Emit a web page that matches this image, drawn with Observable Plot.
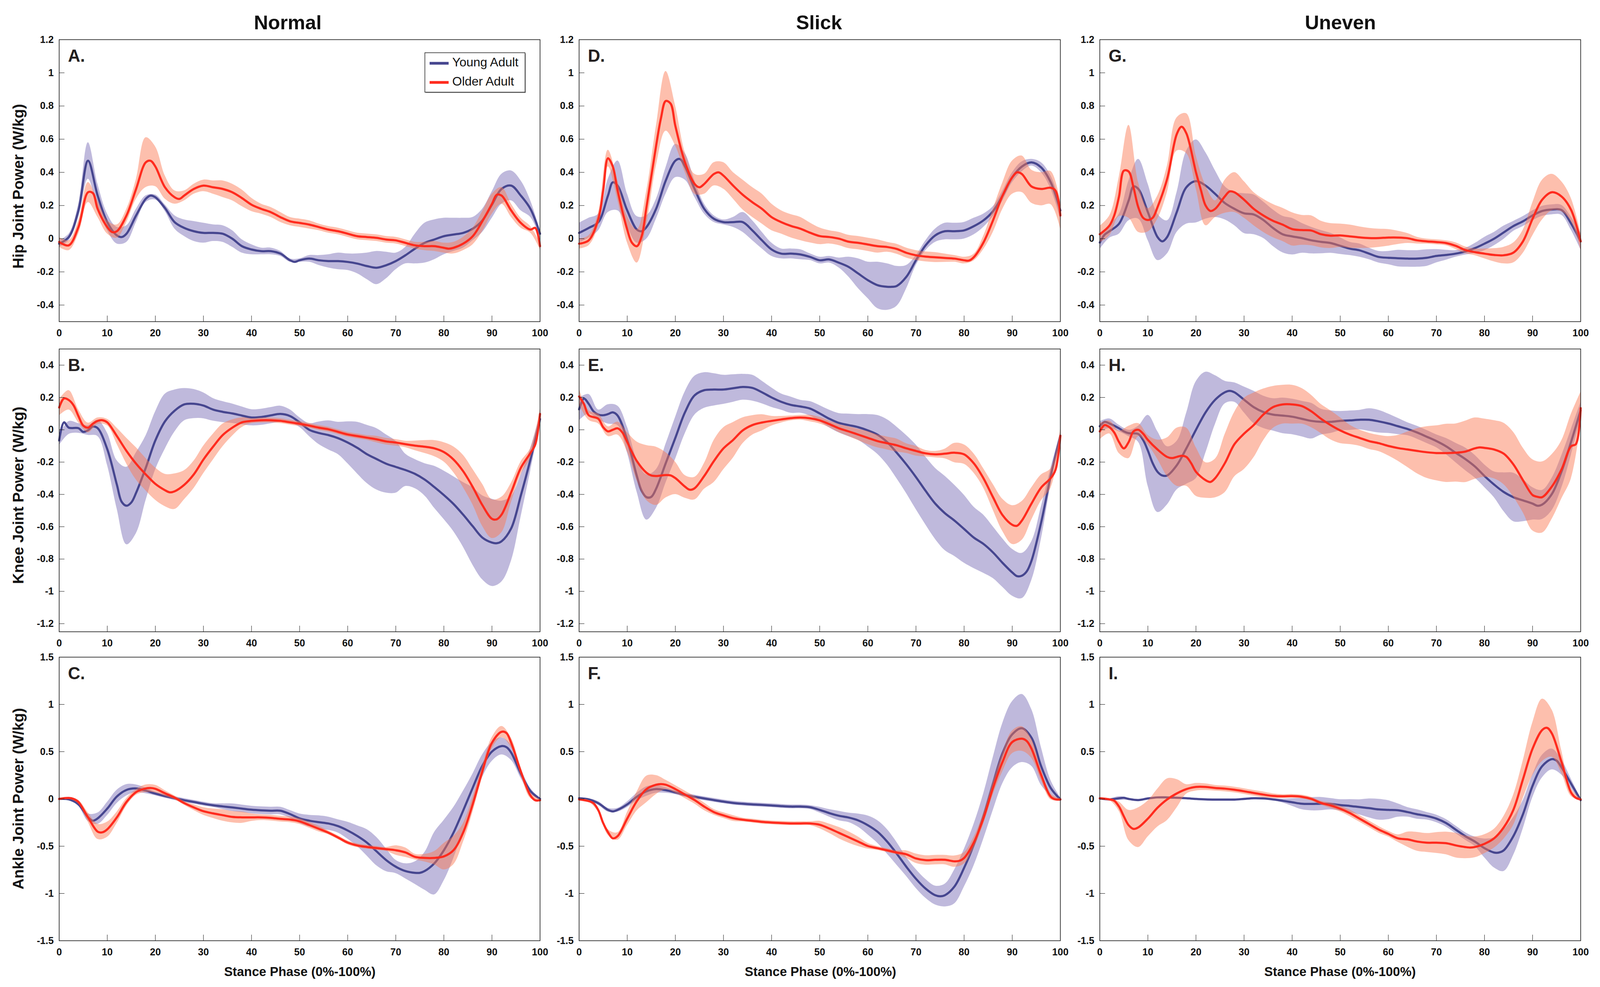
<!DOCTYPE html>
<html><head><meta charset="utf-8">
<script src="https://cdn.jsdelivr.net/npm/d3@7"></script>
<script src="https://cdn.jsdelivr.net/npm/@observablehq/plot@0.6"></script>
<style>
html,body{margin:0;padding:0;background:#fff;overflow:hidden;}
#wrap{position:relative;background:#fff;overflow:hidden;}
</style></head>
<body><div id="wrap"></div>
<script>
// ---------- labels & ticks ----------
const conditions = ["Normal", "Slick", "Uneven"];
const jointTitles = ["Hip Joint Power (W/kg)", "Knee Joint Power (W/kg)", "Ankle Joint Power (W/kg)"];
const xTitle = "Stance Phase (0%-100%)";
const seriesNames = ["Young Adult", "Older Adult"];
const letters = [["A.", "D.", "G."], ["B.", "E.", "H."], ["C.", "F.", "I."]];
const xTicks = [0, 10, 20, 30, 40, 50, 60, 70, 80, 90, 100];
const hipTicks = [-0.4, -0.2, 0, 0.2, 0.4, 0.6, 0.8, 1, 1.2];
const kneeTicks = [-1.2, -1, -0.8, -0.6, -0.4, -0.2, 0, 0.2, 0.4];
const ankleTicks = [-1.5, -1, -0.5, 0, 0.5, 1, 1.5];
const hipDomain = [-0.5, 1.2], kneeDomain = [-1.25, 0.5], ankleDomain = [-1.5, 1.5];
const sdGrid = d3.range(0, 101, 2); // x positions of the SD values

// ---------- HIP ----------
const hipNormalYoung = [[0,-0.03],[2,0.01],[4,0.17],[6,0.47],[8,0.26],[10,0.10],[12,0.02],[13,0.01],[14,0.03],[16,0.14],[18,0.24],[19,0.26],[20,0.25],[22,0.185],[24,0.10],[26,0.065],[28,0.045],[30,0.035],[32,0.035],[34,0.03],[36,0.0],[38,-0.045],[40,-0.065],[42,-0.075],[44,-0.075],[46,-0.09],[48,-0.13],[49,-0.14],[50,-0.13],[52,-0.12],[54,-0.13],[56,-0.135],[58,-0.135],[60,-0.14],[62,-0.15],[64,-0.165],[66,-0.175],[68,-0.16],[70,-0.135],[72,-0.10],[74,-0.06],[76,-0.025],[78,-0.005],[80,0.015],[82,0.025],[84,0.035],[86,0.06],[88,0.11],[90,0.205],[92,0.30],[94,0.32],[96,0.26],[98,0.18],[100,0.03]];
const hipNormalYoungSD = [0.02,0.02,0.04,0.11,0.07,0.05,0.05,0.05,0.04,0.02, 0.015,0.02,0.04,0.05,0.06,0.06,0.05,0.05,0.05,0.04, 0.03,0.02,0.02,0.015,0.01,0.01,0.02,0.03,0.04,0.05, 0.05,0.06,0.08,0.1,0.08,0.05,0.05,0.09,0.12,0.12, 0.11,0.1,0.09,0.07,0.07,0.08,0.09,0.09,0.09,0.05, 0.02];
const hipNormalOlder = [[0,-0.02],[2,-0.04],[4,0.07],[6,0.28],[7,0.275],[8,0.18],[10,0.07],[11,0.04],[12,0.045],[14,0.14],[16,0.30],[18,0.46],[19,0.47],[20,0.435],[22,0.31],[24,0.25],[25,0.24],[26,0.26],[28,0.30],[30,0.32],[32,0.31],[34,0.30],[36,0.28],[38,0.245],[40,0.205],[42,0.18],[44,0.16],[46,0.13],[48,0.105],[50,0.095],[52,0.085],[54,0.07],[56,0.055],[58,0.045],[60,0.03],[62,0.015],[64,0.01],[66,0.005],[68,-0.005],[70,-0.01],[72,-0.025],[74,-0.04],[76,-0.045],[78,-0.045],[80,-0.055],[81,-0.06],[82,-0.055],[84,-0.03],[86,0.015],[88,0.105],[90,0.21],[91,0.265],[92,0.26],[94,0.17],[96,0.095],[98,0.055],[99,0.065],[100,-0.045]];
const hipNormalOlderSD = [0.03,0.03,0.04,0.06,0.05,0.04,0.04,0.04,0.06,0.15, 0.12,0.07,0.04,0.03,0.03,0.035,0.04,0.05,0.05,0.05, 0.04,0.03,0.03,0.03,0.025,0.025,0.025,0.02,0.02,0.02, 0.02,0.02,0.02,0.02,0.02,0.02,0.02,0.02,0.025,0.03, 0.03,0.035,0.04,0.05,0.06,0.06,0.05,0.04,0.03,0.02, 0.02];

const hipSlickYoung = [[0,0.035],[2,0.065],[4,0.10],[6,0.26],[7,0.34],[8,0.32],[10,0.17],[12,0.055],[13,0.045],[14,0.07],[16,0.18],[18,0.35],[20,0.47],[21,0.48],[22,0.435],[24,0.30],[26,0.18],[28,0.12],[30,0.10],[32,0.10],[34,0.10],[36,0.05],[38,-0.01],[40,-0.065],[42,-0.09],[44,-0.09],[46,-0.095],[48,-0.11],[50,-0.13],[52,-0.125],[54,-0.145],[56,-0.17],[58,-0.21],[60,-0.25],[62,-0.28],[64,-0.29],[65,-0.29],[66,-0.285],[68,-0.23],[70,-0.13],[72,-0.04],[74,0.02],[76,0.045],[78,0.045],[80,0.05],[82,0.075],[84,0.11],[86,0.165],[88,0.26],[90,0.37],[92,0.435],[94,0.46],[96,0.43],[98,0.34],[100,0.17]];
const hipSlickYoungSD = [0.06,0.06,0.05,0.1,0.15,0.1,0.08,0.07,0.06,0.08, 0.1,0.08,0.05,0.03,0.02,0.015,0.03,0.06,0.06,0.05, 0.04,0.03,0.03,0.03,0.02,0.02,0.02,0.03,0.06,0.09, 0.11,0.14,0.14,0.12,0.07,0.03,0.03,0.04,0.05,0.05, 0.05,0.05,0.04,0.03,0.03,0.03,0.03,0.02,0.03,0.04, 0.05];
const hipSlickOlder = [[0,-0.03],[2,-0.01],[4,0.12],[5,0.29],[6,0.485],[7,0.435],[8,0.29],[10,0.055],[11,-0.025],[12,-0.045],[13,0.015],[14,0.19],[16,0.56],[17,0.725],[18,0.83],[19,0.815],[20,0.68],[22,0.46],[24,0.33],[25,0.31],[26,0.33],[28,0.39],[29,0.40],[30,0.38],[32,0.32],[34,0.265],[36,0.22],[38,0.18],[40,0.13],[42,0.10],[44,0.077],[46,0.06],[48,0.036],[50,0.016],[52,0.01],[54,0.0],[56,-0.018],[58,-0.025],[60,-0.035],[62,-0.045],[64,-0.05],[66,-0.062],[68,-0.085],[70,-0.10],[72,-0.108],[74,-0.112],[76,-0.116],[78,-0.12],[80,-0.13],[81,-0.132],[82,-0.112],[84,-0.024],[86,0.11],[88,0.26],[90,0.37],[91,0.40],[92,0.39],[94,0.315],[96,0.30],[98,0.307],[99,0.29],[100,0.14]];
const hipSlickOlderSD = [0.03,0.03,0.04,0.05,0.06,0.08,0.1,0.1,0.12,0.18, 0.12,0.06,0.06,0.06,0.07,0.08,0.08,0.09,0.09,0.09, 0.08,0.07,0.07,0.07,0.06,0.05,0.04,0.04,0.04,0.04, 0.04,0.04,0.03,0.03,0.03,0.03,0.03,0.03,0.025,0.02, 0.02,0.02,0.04,0.07,0.08,0.1,0.11,0.1,0.1,0.1, 0.08];

const hipUnevenYoung = [[0,-0.023],[1,0.024],[2,0.045],[4,0.09],[6,0.23],[7,0.315],[8,0.30],[10,0.16],[12,0.01],[13,-0.016],[14,0.01],[16,0.16],[18,0.31],[20,0.347],[22,0.32],[24,0.27],[26,0.215],[28,0.18],[30,0.153],[32,0.146],[34,0.113],[36,0.065],[38,0.027],[40,0.014],[42,0.004],[44,-0.01],[46,-0.019],[48,-0.026],[50,-0.043],[52,-0.06],[54,-0.07],[56,-0.09],[58,-0.11],[60,-0.115],[62,-0.118],[64,-0.12],[66,-0.12],[68,-0.115],[70,-0.104],[72,-0.098],[74,-0.09],[76,-0.077],[78,-0.057],[80,-0.03],[82,0.0],[84,0.038],[86,0.076],[88,0.105],[90,0.14],[92,0.167],[94,0.176],[96,0.173],[98,0.092],[100,-0.016]];
const hipUnevenYoungSD = [0.04,0.04,0.06,0.12,0.18,0.17,0.14,0.1,0.12,0.22, 0.25,0.2,0.14,0.1,0.1,0.12,0.12,0.11,0.11,0.11, 0.11,0.09,0.08,0.07,0.06,0.05,0.04,0.04,0.035,0.035, 0.04,0.05,0.05,0.05,0.05,0.04,0.03,0.02,0.02,0.03, 0.04,0.04,0.04,0.03,0.03,0.03,0.03,0.03,0.03,0.04, 0.05];
const hipUnevenOlder = [[0,0.027],[2,0.079],[3,0.14],[4,0.255],[5,0.41],[6,0.405],[7,0.31],[8,0.19],[9,0.126],[10,0.113],[11,0.126],[12,0.19],[14,0.36],[16,0.63],[17,0.675],[18,0.635],[20,0.40],[21,0.296],[22,0.20],[23,0.167],[24,0.18],[26,0.255],[27,0.285],[28,0.28],[30,0.235],[32,0.18],[34,0.14],[36,0.108],[38,0.085],[40,0.058],[42,0.052],[44,0.049],[46,0.027],[48,0.018],[50,0.02],[52,0.014],[54,0.008],[56,0.004],[58,0.004],[60,0.007],[62,0.007],[64,0.003],[66,-0.01],[68,-0.016],[70,-0.02],[72,-0.026],[74,-0.043],[76,-0.068],[78,-0.081],[80,-0.09],[82,-0.098],[84,-0.10],[86,-0.084],[88,-0.016],[90,0.12],[92,0.235],[94,0.28],[96,0.255],[98,0.174],[100,-0.016]];
const hipUnevenOlderSD = [0.05,0.06,0.12,0.28,0.15,0.07,0.07,0.08,0.1,0.12, 0.1,0.12,0.05,0.1,0.12,0.11,0.1,0.1,0.1,0.1, 0.1,0.09,0.09,0.08,0.075,0.07,0.07,0.065,0.06,0.055, 0.05,0.04,0.03,0.02,0.015,0.015,0.015,0.02,0.02,0.02, 0.03,0.04,0.05,0.06,0.07,0.1,0.12,0.11,0.09,0.07, 0.05];

// ---------- KNEE ----------
const kneeNormalYoung = [[0,-0.066],[1,0.046],[2,0.013],[4,0.01],[5,-0.013],[6,-0.003],[7,0.02],[8,0.01],[10,-0.12],[12,-0.34],[13,-0.446],[14,-0.47],[15,-0.45],[16,-0.39],[18,-0.236],[20,-0.066],[22,0.052],[24,0.118],[26,0.157],[28,0.161],[30,0.15],[32,0.125],[34,0.111],[36,0.101],[38,0.088],[40,0.076],[42,0.079],[44,0.089],[46,0.098],[48,0.085],[50,0.046],[52,0.0],[54,-0.02],[56,-0.033],[58,-0.052],[60,-0.079],[62,-0.112],[64,-0.151],[66,-0.181],[68,-0.21],[70,-0.23],[72,-0.249],[74,-0.273],[76,-0.308],[78,-0.354],[80,-0.404],[82,-0.459],[84,-0.525],[86,-0.597],[88,-0.667],[90,-0.698],[91,-0.702],[92,-0.69],[94,-0.61],[96,-0.407],[98,-0.184],[100,0.066]];
const kneeNormalYoungSD = [0.03,0.04,0.03,0.03,0.05,0.1,0.15,0.24,0.25,0.2, 0.18,0.17,0.13,0.1,0.09,0.08,0.07,0.065,0.06,0.055, 0.05,0.05,0.05,0.05,0.04,0.03,0.04,0.07,0.09,0.1, 0.13,0.16,0.18,0.19,0.18,0.16,0.1,0.09,0.1,0.13, 0.15,0.17,0.2,0.24,0.26,0.27,0.25,0.2,0.13,0.07, 0.03];
const kneeNormalOlder = [[0,0.138],[1,0.194],[2,0.184],[3,0.151],[4,0.085],[5,0.026],[6,0.013],[7,0.037],[8,0.055],[9,0.059],[10,0.046],[12,-0.039],[14,-0.131],[16,-0.21],[18,-0.276],[20,-0.335],[22,-0.374],[23,-0.387],[24,-0.381],[26,-0.341],[28,-0.276],[30,-0.184],[32,-0.105],[34,-0.033],[36,0.013],[38,0.046],[40,0.055],[42,0.059],[44,0.059],[46,0.055],[48,0.046],[50,0.037],[52,0.026],[54,0.013],[56,0.003],[58,-0.013],[60,-0.029],[62,-0.039],[64,-0.049],[66,-0.059],[68,-0.072],[70,-0.079],[72,-0.089],[74,-0.098],[76,-0.105],[78,-0.115],[80,-0.138],[82,-0.184],[84,-0.256],[86,-0.354],[88,-0.466],[90,-0.551],[91,-0.554],[92,-0.525],[94,-0.387],[96,-0.236],[98,-0.144],[99,-0.092],[100,0.098]];
const kneeNormalOlderSD = [0.05,0.06,0.04,0.03,0.02,0.02,0.05,0.08,0.1,0.1, 0.1,0.1,0.11,0.09,0.085,0.085,0.08,0.07,0.05,0.03, 0.015,0.015,0.015,0.015,0.015,0.015,0.015,0.015,0.015,0.015, 0.015,0.015,0.015,0.02,0.02,0.02,0.02,0.03,0.04,0.05, 0.06,0.08,0.1,0.11,0.13,0.12,0.11,0.06,0.04,0.03, 0.03];

const kneeSlickYoung = [[0,0.127],[1,0.193],[2,0.16],[3,0.114],[4,0.094],[5,0.09],[6,0.097],[7,0.108],[8,0.088],[10,-0.063],[12,-0.286],[13,-0.378],[14,-0.417],[15,-0.415],[16,-0.365],[18,-0.207],[20,-0.05],[22,0.108],[24,0.213],[26,0.245],[28,0.249],[30,0.249],[32,0.257],[34,0.265],[36,0.259],[38,0.232],[40,0.2],[42,0.173],[44,0.154],[46,0.144],[48,0.131],[50,0.101],[52,0.068],[54,0.042],[56,0.029],[58,0.016],[60,-0.004],[62,-0.03],[64,-0.076],[66,-0.142],[68,-0.214],[70,-0.293],[72,-0.378],[74,-0.457],[76,-0.516],[78,-0.562],[80,-0.614],[82,-0.667],[84,-0.706],[86,-0.759],[88,-0.824],[90,-0.883],[91,-0.906],[92,-0.903],[93,-0.877],[94,-0.811],[96,-0.575],[98,-0.286],[100,-0.037]];
const kneeSlickYoungSD = [0.07,0.06,0.03,0.06,0.06,0.08,0.1,0.14,0.12,0.12, 0.13,0.13,0.12,0.11,0.1,0.09,0.085,0.08,0.08,0.07, 0.06,0.05,0.05,0.04,0.045,0.05,0.055,0.06,0.07,0.08, 0.1,0.12,0.14,0.16,0.18,0.2,0.21,0.22,0.23,0.22, 0.21,0.19,0.18,0.16,0.15,0.145,0.14,0.12,0.1,0.05, 0.02];
const kneeSlickOlder = [[0,0.206],[1,0.16],[2,0.09],[4,0.068],[5,0.016],[6,-0.01],[7,0.0],[8,0.009],[9,-0.017],[10,-0.076],[12,-0.194],[14,-0.266],[15,-0.283],[16,-0.286],[18,-0.28],[19,-0.282],[20,-0.299],[22,-0.352],[23,-0.371],[24,-0.362],[26,-0.286],[28,-0.194],[30,-0.115],[32,-0.063],[34,-0.004],[36,0.029],[38,0.045],[40,0.055],[42,0.064],[44,0.072],[46,0.076],[48,0.071],[50,0.058],[52,0.035],[54,0.009],[56,-0.01],[58,-0.03],[60,-0.05],[62,-0.07],[64,-0.083],[66,-0.096],[68,-0.115],[70,-0.131],[72,-0.146],[74,-0.152],[76,-0.148],[78,-0.142],[80,-0.152],[82,-0.207],[84,-0.299],[86,-0.417],[88,-0.529],[90,-0.588],[91,-0.594],[92,-0.562],[94,-0.457],[96,-0.358],[98,-0.299],[99,-0.247],[100,-0.037]];
const kneeSlickOlderSD = [0.05,0.03,0.03,0.03,0.04,0.06,0.12,0.17,0.18,0.14, 0.1,0.07,0.07,0.08,0.13,0.13,0.11,0.08,0.06,0.05, 0.03,0.02,0.015,0.015,0.02,0.02,0.02,0.025,0.03,0.035, 0.04,0.04,0.04,0.04,0.03,0.03,0.02,0.02,0.03,0.06, 0.06,0.06,0.06,0.08,0.1,0.12,0.12,0.1,0.08,0.06, 0.04];

const kneeUnevenYoung = [[0,0.022],[1,0.049],[2,0.039],[4,0.009],[5,-0.01],[6,-0.021],[8,-0.026],[9,-0.063],[10,-0.129],[11,-0.207],[12,-0.26],[13,-0.283],[14,-0.283],[16,-0.22],[18,-0.115],[20,0.0],[22,0.108],[24,0.186],[26,0.232],[27,0.241],[28,0.232],[30,0.186],[32,0.14],[34,0.11],[36,0.094],[38,0.088],[40,0.081],[42,0.068],[44,0.055],[46,0.049],[48,0.049],[50,0.055],[52,0.058],[54,0.062],[56,0.062],[58,0.052],[60,0.039],[62,0.022],[64,0.005],[66,-0.017],[68,-0.043],[70,-0.07],[72,-0.102],[74,-0.142],[76,-0.181],[78,-0.227],[80,-0.286],[82,-0.339],[84,-0.385],[86,-0.417],[88,-0.437],[90,-0.457],[91,-0.47],[92,-0.463],[94,-0.398],[96,-0.26],[98,-0.076],[100,0.121]];
const kneeUnevenYoungSD = [0.03,0.03,0.02,0.02,0.05,0.22,0.25,0.18,0.15,0.22, 0.3,0.25,0.15,0.07,0.06,0.08,0.1,0.1,0.1,0.11, 0.11,0.11,0.11,0.08,0.07,0.06,0.06,0.06,0.07,0.07, 0.06,0.05,0.04,0.04,0.04,0.04,0.05,0.06,0.07,0.07, 0.07,0.08,0.12,0.15,0.13,0.1,0.09,0.1,0.1,0.08, 0.05];
const kneeUnevenOlder = [[0,-0.01],[1,0.029],[2,0.016],[3,-0.017],[4,-0.076],[5,-0.115],[6,-0.076],[7,-0.01],[8,0.0],[9,-0.024],[10,-0.063],[12,-0.122],[14,-0.168],[15,-0.175],[16,-0.168],[17,-0.161],[18,-0.168],[19,-0.207],[20,-0.26],[22,-0.312],[23,-0.323],[24,-0.299],[26,-0.207],[28,-0.089],[30,-0.024],[32,0.029],[34,0.094],[36,0.14],[38,0.157],[40,0.157],[42,0.147],[44,0.114],[46,0.068],[48,0.029],[50,-0.004],[52,-0.03],[54,-0.05],[56,-0.07],[58,-0.083],[60,-0.1],[62,-0.113],[64,-0.122],[66,-0.131],[68,-0.139],[70,-0.144],[72,-0.144],[74,-0.142],[76,-0.135],[78,-0.115],[79,-0.109],[80,-0.112],[82,-0.122],[84,-0.148],[86,-0.214],[88,-0.312],[90,-0.404],[91,-0.415],[92,-0.417],[94,-0.352],[96,-0.247],[98,-0.102],[99,-0.089],[100,0.134]];
const kneeUnevenOlderSD = [0.05,0.04,0.07,0.1,0.04,0.03,0.06,0.12,0.18,0.18, 0.15,0.11,0.12,0.18,0.2,0.22,0.2,0.16,0.13,0.12, 0.12,0.11,0.1,0.09,0.09,0.08,0.06,0.05,0.05,0.05, 0.06,0.08,0.11,0.14,0.16,0.17,0.18,0.18,0.19,0.19, 0.18,0.18,0.19,0.2,0.2,0.22,0.22,0.2,0.18,0.2, 0.1];

// ---------- ANKLE ----------
const ankleNormalYoung = [[0,0.0],[2,-0.005],[4,-0.056],[6,-0.195],[7,-0.23],[8,-0.206],[10,-0.102],[12,0.026],[14,0.095],[16,0.111],[18,0.088],[20,0.056],[22,0.03],[24,0.007],[26,-0.014],[28,-0.032],[30,-0.051],[32,-0.067],[34,-0.079],[36,-0.09],[38,-0.102],[40,-0.114],[42,-0.121],[44,-0.125],[46,-0.125],[48,-0.16],[50,-0.206],[52,-0.23],[54,-0.246],[56,-0.26],[58,-0.288],[60,-0.334],[62,-0.392],[64,-0.462],[66,-0.555],[68,-0.647],[70,-0.717],[72,-0.763],[74,-0.782],[75,-0.782],[76,-0.763],[78,-0.682],[80,-0.543],[82,-0.357],[84,-0.125],[86,0.118],[88,0.35],[90,0.501],[92,0.559],[93,0.548],[94,0.49],[96,0.269],[98,0.084],[100,0.0]];
const ankleNormalYoungSD = [0.01,0.01,0.02,0.04,0.06,0.07,0.07,0.06,0.04,0.03, 0.02,0.02,0.02,0.02,0.02,0.02,0.02,0.03,0.04,0.04, 0.04,0.04,0.04,0.04,0.04,0.05,0.06,0.07,0.07,0.07, 0.09,0.11,0.14,0.15,0.12,0.07,0.08,0.12,0.2,0.33, 0.32,0.27,0.21,0.15,0.12,0.1,0.09,0.08,0.05,0.03, 0.01];
const ankleNormalOlder = [[0,0.0],[2,0.01],[3,0.0],[4,-0.032],[6,-0.195],[8,-0.346],[9,-0.353],[10,-0.322],[12,-0.195],[14,-0.032],[16,0.072],[18,0.111],[19,0.116],[20,0.107],[22,0.06],[24,0.014],[26,-0.044],[28,-0.09],[30,-0.13],[32,-0.153],[34,-0.172],[36,-0.19],[38,-0.195],[40,-0.195],[42,-0.195],[44,-0.2],[46,-0.211],[48,-0.218],[50,-0.237],[52,-0.276],[54,-0.316],[56,-0.357],[58,-0.408],[60,-0.462],[62,-0.492],[64,-0.508],[66,-0.52],[68,-0.531],[70,-0.543],[72,-0.566],[74,-0.613],[76,-0.624],[78,-0.624],[80,-0.608],[82,-0.543],[84,-0.357],[86,-0.056],[88,0.292],[90,0.594],[92,0.71],[93,0.698],[94,0.594],[96,0.292],[98,0.037],[99,-0.014],[100,-0.014]];
const ankleNormalOlderSD = [0.01,0.01,0.02,0.05,0.08,0.08,0.06,0.04,0.03,0.04, 0.04,0.03,0.02,0.02,0.03,0.04,0.05,0.06,0.06,0.06, 0.04,0.03,0.03,0.03,0.03,0.03,0.03,0.03,0.02,0.02, 0.02,0.02,0.02,0.02,0.02,0.05,0.05,0.03,0.04,0.07, 0.14,0.15,0.1,0.08,0.06,0.06,0.06,0.05,0.04,0.03, 0.01];

const ankleSlickYoung = [[0,0.007],[2,-0.005],[4,-0.046],[6,-0.116],[7,-0.132],[8,-0.116],[10,-0.058],[12,0.023],[14,0.081],[16,0.104],[18,0.093],[20,0.069],[22,0.042],[24,0.023],[26,0.005],[28,-0.012],[30,-0.028],[32,-0.042],[34,-0.051],[36,-0.058],[38,-0.063],[40,-0.069],[42,-0.076],[44,-0.081],[46,-0.081],[48,-0.088],[50,-0.116],[52,-0.15],[54,-0.178],[56,-0.197],[58,-0.227],[60,-0.278],[62,-0.347],[64,-0.451],[66,-0.579],[68,-0.718],[70,-0.845],[72,-0.949],[74,-1.019],[75,-1.03],[76,-1.019],[78,-0.926],[80,-0.729],[82,-0.486],[84,-0.185],[86,0.162],[88,0.486],[90,0.683],[92,0.748],[94,0.648],[96,0.347],[98,0.116],[100,-0.005]];
const ankleSlickYoungSD = [0.01,0.01,0.02,0.02,0.02,0.03,0.04,0.05,0.04,0.03, 0.02,0.02,0.02,0.02,0.02,0.02,0.02,0.02,0.02,0.02, 0.02,0.02,0.02,0.02,0.02,0.03,0.04,0.05,0.05,0.07, 0.1,0.12,0.13,0.12,0.1,0.1,0.1,0.1,0.12,0.18, 0.2,0.22,0.24,0.28,0.32,0.35,0.36,0.3,0.2,0.08, 0.02];
const ankleSlickOlder = [[0,-0.005],[2,-0.023],[3,-0.046],[4,-0.12],[5,-0.255],[6,-0.352],[7,-0.417],[8,-0.394],[10,-0.208],[12,-0.023],[14,0.104],[16,0.15],[17,0.157],[18,0.15],[20,0.104],[22,0.046],[24,-0.012],[26,-0.081],[28,-0.139],[30,-0.174],[32,-0.204],[34,-0.22],[36,-0.231],[38,-0.243],[40,-0.25],[42,-0.255],[44,-0.259],[46,-0.259],[48,-0.259],[50,-0.273],[52,-0.313],[54,-0.359],[56,-0.405],[58,-0.451],[60,-0.498],[62,-0.521],[64,-0.544],[66,-0.567],[68,-0.586],[70,-0.63],[72,-0.648],[74,-0.644],[76,-0.644],[78,-0.66],[79,-0.655],[80,-0.625],[82,-0.463],[84,-0.208],[86,0.116],[88,0.394],[90,0.602],[92,0.637],[93,0.613],[94,0.532],[96,0.255],[98,0.023],[99,-0.005],[100,-0.005]];
const ankleSlickOlderSD = [0.01,0.01,0.02,0.03,0.04,0.07,0.1,0.14,0.1,0.05, 0.04,0.04,0.04,0.04,0.03,0.03,0.03,0.02,0.02,0.02, 0.02,0.02,0.02,0.02,0.02,0.04,0.05,0.06,0.06,0.05, 0.03,0.02,0.02,0.02,0.04,0.05,0.05,0.05,0.05,0.06, 0.06,0.06,0.06,0.07,0.1,0.12,0.13,0.1,0.06,0.03, 0.01];

const ankleUnevenYoung = [[0,0.005],[2,-0.005],[4,0.007],[5,0.012],[6,0.0],[8,-0.012],[10,0.005],[12,0.016],[14,0.016],[16,0.012],[18,0.007],[20,0.0],[22,-0.005],[24,-0.007],[26,-0.007],[28,-0.007],[30,0.0],[32,0.007],[34,0.005],[36,-0.005],[38,-0.019],[40,-0.035],[42,-0.051],[44,-0.053],[46,-0.051],[48,-0.053],[50,-0.065],[52,-0.074],[54,-0.086],[56,-0.097],[58,-0.111],[60,-0.116],[62,-0.12],[64,-0.139],[66,-0.162],[68,-0.18],[70,-0.208],[72,-0.255],[74,-0.324],[76,-0.394],[78,-0.451],[80,-0.521],[82,-0.567],[83,-0.567],[84,-0.544],[86,-0.394],[88,-0.162],[90,0.139],[92,0.347],[94,0.421],[95,0.405],[96,0.336],[98,0.162],[100,-0.012]];
const ankleUnevenYoungSD = [0.01,0.01,0.02,0.01,0.01,0.01,0.01,0.01,0.01,0.01, 0.01,0.01,0.01,0.01,0.01,0.01,0.01,0.01,0.01,0.02, 0.04,0.06,0.07,0.07,0.06,0.06,0.07,0.08,0.1,0.11, 0.1,0.07,0.05,0.05,0.04,0.04,0.04,0.04,0.04,0.05, 0.1,0.16,0.22,0.2,0.15,0.12,0.12,0.11,0.08,0.05, 0.02];
const ankleUnevenOlder = [[0,0.007],[2,-0.005],[3,-0.019],[4,-0.081],[5,-0.185],[6,-0.278],[7,-0.317],[8,-0.301],[10,-0.208],[12,-0.093],[14,-0.005],[16,0.058],[18,0.104],[20,0.127],[22,0.127],[24,0.116],[26,0.109],[28,0.097],[30,0.081],[32,0.063],[34,0.046],[36,0.032],[38,0.028],[40,0.03],[42,0.023],[44,0.0],[46,-0.042],[48,-0.069],[50,-0.104],[52,-0.15],[54,-0.208],[56,-0.266],[58,-0.324],[60,-0.37],[62,-0.417],[64,-0.428],[66,-0.451],[68,-0.463],[70,-0.463],[72,-0.468],[74,-0.491],[76,-0.509],[77,-0.514],[78,-0.509],[80,-0.475],[82,-0.417],[84,-0.301],[86,-0.116],[88,0.208],[90,0.532],[92,0.729],[93,0.752],[94,0.694],[96,0.394],[98,0.069],[99,0.012],[100,-0.005]];
const ankleUnevenOlderSD = [0.01,0.01,0.05,0.16,0.21,0.19,0.2,0.22,0.15,0.05, 0.04,0.035,0.03,0.03,0.03,0.03,0.03,0.03,0.025,0.02, 0.02,0.02,0.02,0.02,0.03,0.03,0.035,0.035,0.035,0.035, 0.03,0.04,0.08,0.1,0.1,0.11,0.12,0.13,0.12,0.11, 0.1,0.1,0.12,0.16,0.2,0.28,0.33,0.25,0.12,0.04, 0.01];

// ---------- styling & layout ----------
const FONT = "'Liberation Sans', Arial, Helvetica, sans-serif";
const BLUE = "#46468f", RED = "#ff2b1e", BLUE_BAND = "#8a7fbf", RED_BAND = "#fa7850";
// reference layout is 4376 x 2527; scale it to the real viewport
const VW = (window.innerWidth || document.documentElement.clientWidth || 4376);
const VH = (window.innerHeight || document.documentElement.clientHeight || 2527);
const SX = VW / 4376, SY = VH / 2527, FS = (SX + SY) / 2;
const colLeft = [161, 1583, 3007].map(v => v * SX), colWidth = [1315, 1316, 1315].map(v => v * SX);
const rowTop = [101, 893, 1682].map(v => v * SY), rowHeight = [722, 724, 726].map(v => v * SY);
const M = {left: 110, right: 20, top: 40, bottom: 70};

const rowDomains = [hipDomain, kneeDomain, ankleDomain];
const rowTicks = [hipTicks, kneeTicks, ankleTicks];
const grid = [
  [[hipNormalYoung, hipNormalYoungSD, hipNormalOlder, hipNormalOlderSD],
   [hipSlickYoung, hipSlickYoungSD, hipSlickOlder, hipSlickOlderSD],
   [hipUnevenYoung, hipUnevenYoungSD, hipUnevenOlder, hipUnevenOlderSD]],
  [[kneeNormalYoung, kneeNormalYoungSD, kneeNormalOlder, kneeNormalOlderSD],
   [kneeSlickYoung, kneeSlickYoungSD, kneeSlickOlder, kneeSlickOlderSD],
   [kneeUnevenYoung, kneeUnevenYoungSD, kneeUnevenOlder, kneeUnevenOlderSD]],
  [[ankleNormalYoung, ankleNormalYoungSD, ankleNormalOlder, ankleNormalOlderSD],
   [ankleSlickYoung, ankleSlickYoungSD, ankleSlickOlder, ankleSlickOlderSD],
   [ankleUnevenYoung, ankleUnevenYoungSD, ankleUnevenOlder, ankleUnevenOlderSD]]
];

function bandRows(mean, sd) {
  const m = new Map(mean.map(d => [d[0], d[1]]));
  return sdGrid.map((x, i) => ({x, lo: m.get(x) - sd[i], hi: m.get(x) + sd[i]}));
}
const fmtY = d => String(Math.round(d * 10) / 10);

const wrap = document.getElementById("wrap");
wrap.style.width = VW + "px";
wrap.style.height = VH + "px";

for (let r = 0; r < 3; r++) {
  for (let c = 0; c < 3; c++) {
    const [young, youngSD, older, olderSD] = grid[r][c];
    const w = colWidth[c], h = rowHeight[r];
    const svg = Plot.plot({
      width: Math.round(w + M.left + M.right),
      height: Math.round(h + M.top + M.bottom),
      marginLeft: M.left, marginRight: M.right, marginTop: M.top, marginBottom: M.bottom,
      x: {domain: [0, 100]},
      y: {domain: rowDomains[r]},
      style: {fontFamily: FONT, background: "transparent", overflow: "visible", color: "#111", maxWidth: "none"},
      marks: [
        Plot.areaY(bandRows(young, youngSD), {x: "x", y1: "lo", y2: "hi", fill: BLUE_BAND, fillOpacity: 0.55, curve: "catmull-rom"}),
        Plot.line(young, {x: d => d[0], y: d => d[1], stroke: BLUE, strokeWidth: 5.5, curve: "catmull-rom", strokeLinejoin: "round"}),
        Plot.areaY(bandRows(older, olderSD), {x: "x", y1: "lo", y2: "hi", fill: RED_BAND, fillOpacity: 0.47, curve: "catmull-rom"}),
        Plot.line(older, {x: d => d[0], y: d => d[1], stroke: RED, strokeWidth: 5.5, curve: "catmull-rom", strokeLinejoin: "round"}),
        Plot.frame({stroke: "#111", strokeWidth: 1.6}),
        Plot.axisX({ticks: xTicks, tickSize: -15, tickPadding: 35, tickFormat: d => String(d), fontSize: 26 * FS, fontWeight: "bold", label: null}),
        Plot.axisY({ticks: rowTicks[r], tickSize: -14, tickPadding: 28, tickFormat: fmtY, fontSize: 26 * FS, fontWeight: "bold", label: null}),
        Plot.text([letters[r][c]], {frameAnchor: "top-left", dx: 24 * SX, dy: 56 * SY, lineAnchor: "bottom", textAnchor: "start", text: d => d, fontSize: 45 * FS, fontWeight: "bold", fill: "#231f20"})
      ]
    });
    svg.style.position = "absolute";
    svg.style.left = (colLeft[c] - M.left) + "px";
    svg.style.top = (rowTop[r] - M.top) + "px";
    wrap.appendChild(svg);
  }
}

// ---------- overlay: titles, axis titles, legend ----------
const ov = d3.select(wrap).append("svg")
  .attr("width", VW).attr("height", VH)
  .style("position", "absolute").style("left", "0px").style("top", "0px")
  .style("font-family", FONT);

const titleX = [787, 2240, 3666];
conditions.forEach((t, i) => {
  ov.append("text").attr("x", titleX[i] * SX).attr("y", 75 * SY).attr("text-anchor", "middle")
    .attr("font-size", 52 * FS).attr("font-weight", "bold").attr("fill", "#111").text(t);
});
const yTitleCY = [477, 1268, 2045];
jointTitles.forEach((t, i) => {
  ov.append("text").attr("transform", `translate(${64 * SX},${yTitleCY[i] * SY}) rotate(-90)`)
    .attr("text-anchor", "middle").attr("font-size", 40 * FS).attr("font-weight", "bold").attr("fill", "#111").text(t);
});
const xTitleX = [820, 2244, 3665];
xTitleX.forEach(x => {
  ov.append("text").attr("x", x * SX).attr("y", 2499 * SY).attr("text-anchor", "middle")
    .attr("font-size", 34 * FS).attr("font-weight", "bold").attr("fill", "#111").text(xTitle);
});

// legend in panel A
const lg = ov.append("g");
lg.append("rect").attr("x", 1164 * SX).attr("y", 137 * SY).attr("width", 274 * SX).attr("height", 101 * SY).attr("fill", "#999");
lg.append("rect").attr("x", 1162 * SX).attr("y", 135 * SY).attr("width", 274 * SX).attr("height", 101 * SY)
  .attr("fill", "#fff").attr("stroke", "#222").attr("stroke-width", 1.5);
[[BLUE, 162, 170], [RED, 211, 219]].forEach(([col, ly, ty], i) => {
  lg.append("line").attr("x1", 1175 * SX).attr("x2", 1227 * SX).attr("y1", ly * SY).attr("y2", ly * SY)
    .attr("stroke", col).attr("stroke-width", 7);
  lg.append("text").attr("x", 1237 * SX).attr("y", ty * SY).attr("font-size", 33 * FS).attr("fill", "#111").text(seriesNames[i]);
});
</script>
</body></html>
